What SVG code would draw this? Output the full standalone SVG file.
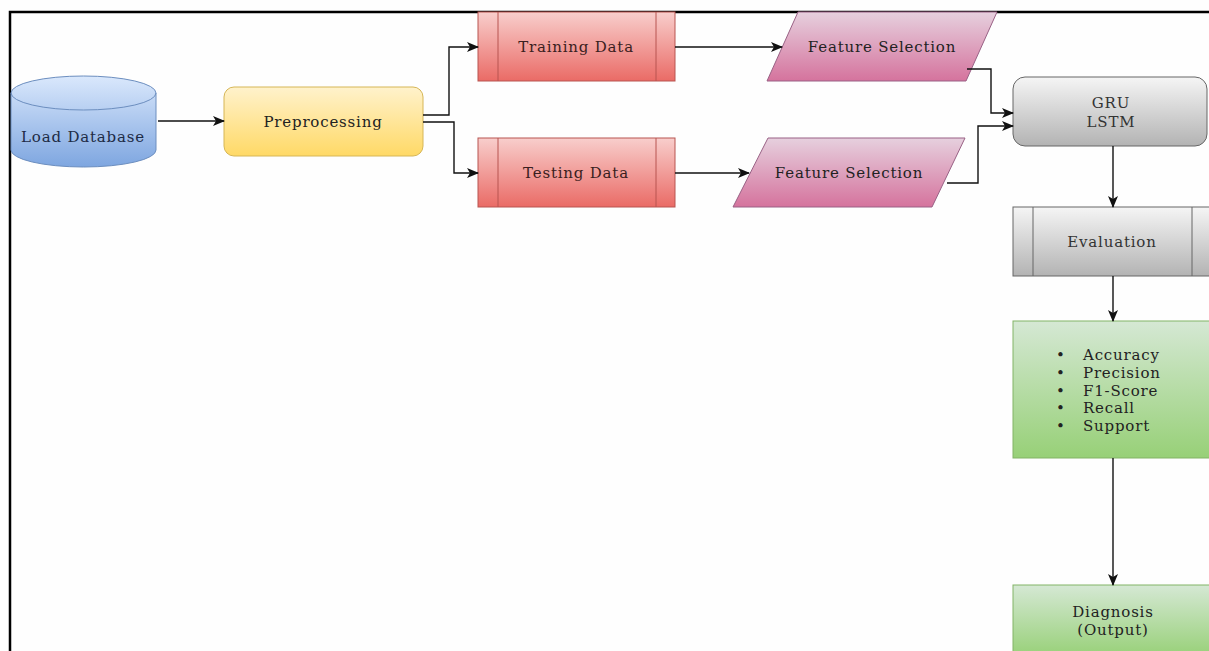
<svg xmlns="http://www.w3.org/2000/svg" width="1209" height="651" viewBox="0 0 1209 651">
<defs>
<linearGradient id="gBlue" x1="0" y1="0" x2="0" y2="1"><stop offset="0" stop-color="#dae8fc"/><stop offset="1" stop-color="#7ea6e0"/></linearGradient>
<linearGradient id="gYel" x1="0" y1="0" x2="0" y2="1"><stop offset="0" stop-color="#fff2cc"/><stop offset="1" stop-color="#ffd966"/></linearGradient>
<linearGradient id="gRed" x1="0" y1="0" x2="0" y2="1"><stop offset="0" stop-color="#f8cecc"/><stop offset="1" stop-color="#ea6b66"/></linearGradient>
<linearGradient id="gPink" x1="0" y1="0" x2="0" y2="1"><stop offset="0" stop-color="#e6d0de"/><stop offset="1" stop-color="#d5739d"/></linearGradient>
<linearGradient id="gGray" x1="0" y1="0" x2="0" y2="1"><stop offset="0" stop-color="#f5f5f5"/><stop offset="1" stop-color="#b3b3b3"/></linearGradient>
<linearGradient id="gGreen" x1="0" y1="0" x2="0" y2="1"><stop offset="0" stop-color="#d5e8d4"/><stop offset="1" stop-color="#97d077"/></linearGradient>
<marker id="arr" markerWidth="12" markerHeight="10" refX="11" refY="5" orient="auto" markerUnits="userSpaceOnUse"><path d="M0,0 L12,5 L0,10 L3,5 Z" fill="#111"/></marker>
<style>
.t{font-family:"DejaVu Serif","Liberation Serif",serif;font-size:15px;letter-spacing:0.8px;fill:#222;text-anchor:middle}
.l{font-family:"DejaVu Serif","Liberation Serif",serif;font-size:15px;letter-spacing:0.8px;fill:#222}
.c{fill:none;stroke:#111;stroke-width:1.4;marker-end:url(#arr)}
</style>
</defs>
<rect width="1209" height="651" fill="#fefefe"/>
<path d="M10,651 V12 H1209" fill="none" stroke="#000" stroke-width="2.5"/>

<g id="load-database">
<path d="M11,93 A72.5,17 0 0 1 156,93 V150 A72.5,17 0 0 1 11,150 Z" fill="url(#gBlue)" stroke="#6c8ebf"/>
<path d="M11,93 A72.5,17 0 0 0 156,93" fill="none" stroke="#6c8ebf"/>
<text class="t" x="83" y="142" style="fill:#1d2b45">Load Database</text>
</g>

<g id="preprocessing">
<rect x="224" y="87" width="199" height="69" rx="10" fill="url(#gYel)" stroke="#d6b656"/>
<text class="t" x="323" y="127">Preprocessing</text>
</g>

<g id="training-data">
<rect x="478" y="12" width="197" height="69" fill="url(#gRed)" stroke="#b85450"/>
<path d="M498,12 V81 M656,12 V81" stroke="#b85450"/>
<text class="t" x="576" y="52" style="fill:#3a2020">Training Data</text>
</g>

<g id="testing-data">
<rect x="478" y="138" width="197" height="69" fill="url(#gRed)" stroke="#b85450"/>
<path d="M498,138 V207 M656,138 V207" stroke="#b85450"/>
<text class="t" x="576" y="178" style="fill:#3a2020">Testing Data</text>
</g>

<g id="feature-selection-1">
<path d="M798,12 H997 L966,81 H767 Z" fill="url(#gPink)" stroke="#996185"/>
<text class="t" x="882" y="52">Feature Selection</text>
</g>

<g id="feature-selection-2">
<path d="M768,138 H965 L932,207 H733 Z" fill="url(#gPink)" stroke="#996185"/>
<text class="t" x="849" y="178">Feature Selection</text>
</g>

<g id="gru-lstm">
<rect x="1013" y="77" width="194" height="69" rx="12" fill="url(#gGray)" stroke="#666"/>
<text class="t" x="1111" y="108" style="fill:#333">GRU</text>
<text class="t" x="1111" y="127" style="fill:#333">LSTM</text>
</g>

<g id="evaluation">
<rect x="1013" y="207" width="198" height="69" fill="url(#gGray)" stroke="#666"/>
<path d="M1033,207 V276 M1192,207 V276" stroke="#666"/>
<text class="t" x="1112" y="247" style="fill:#333">Evaluation</text>
</g>

<g id="metrics">
<rect x="1013" y="321" width="198" height="137" fill="url(#gGreen)" stroke="#82b366"/>
<g class="l">
<text x="1056" y="360">•</text><text x="1083" y="360">Accuracy</text>
<text x="1056" y="378">•</text><text x="1083" y="378">Precision</text>
<text x="1056" y="396">•</text><text x="1083" y="396">F1-Score</text>
<text x="1056" y="413">•</text><text x="1083" y="413">Recall</text>
<text x="1056" y="431">•</text><text x="1083" y="431">Support</text>
</g>
</g>

<g id="diagnosis">
<rect x="1013" y="585" width="198" height="72" fill="url(#gGreen)" stroke="#82b366"/>
<text class="t" x="1113" y="617">Diagnosis</text>
<text class="t" x="1113" y="635">(Output)</text>
</g>

<g id="connectors">
<path class="c" d="M158,121 H224"/>
<path class="c" d="M423,115 H449 V47 H478"/>
<path class="c" d="M423,122 H454 V173 H478"/>
<path class="c" d="M675,47 H782"/>
<path class="c" d="M675,173 H749"/>
<path class="c" d="M967,69 H991 V113 H1013"/>
<path class="c" d="M947,183 H978 V126 H1013"/>
<path class="c" d="M1113,146 V207"/>
<path class="c" d="M1113,276 V321"/>
<path class="c" d="M1113,458 V585"/>
</g>
</svg>
